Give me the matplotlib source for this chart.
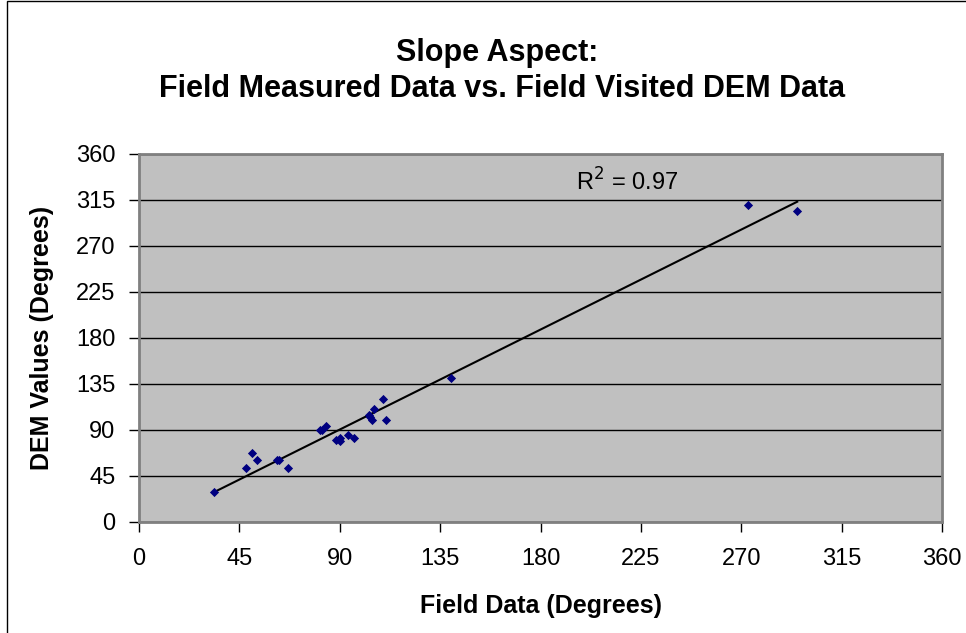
import matplotlib
matplotlib.use("Agg")
import matplotlib.pyplot as plt
import matplotlib.patches as mpatches
import numpy as np

# field measured vs DEM slope aspect (degrees)
field_deg = [33.8, 47.9, 50.8, 52.9, 62.0, 62.9, 67.0, 81.2, 82.1, 84.0, 88.1,
             90.2, 90.2, 93.8, 96.6, 102.9, 105.4, 104.5, 103.5, 109.6, 110.8,
             140.0, 273.1, 295.1]
dem_deg = [29.8, 52.7, 67.7, 60.5, 60.5, 60.5, 52.7, 90.1, 90.1, 94.3, 80.4,
           82.0, 79.7, 85.3, 82.3, 104.8, 110.4, 99.9, 103.0, 120.2, 100.2,
           140.7, 310.1, 304.3]
ticks = [0, 45, 90, 135, 180, 225, 270, 315, 360]
r2_label = "R$^2$ = 0.97"

plt.rcParams["font.family"] = ["Liberation Sans", "DejaVu Sans"]

fig = plt.figure(figsize=(9.66, 6.33), dpi=100, facecolor="white")
ax = fig.add_axes([139/966, (633-522)/633, (942-139)/966, (522-154)/633])
ax.set_facecolor("#C0C0C0")

x = np.array(field_deg)
y = np.array(dem_deg)

# linear trendline
k, b = np.polyfit(x, y, 1)
xs = np.array([x.min(), x.max()])
ax.plot(xs, k*xs + b, color="black", linewidth=1.5, zorder=3)

ax.scatter(x, y, marker="D", s=22, color="#000080", zorder=4, linewidths=0)

ax.set_xlim(0, 360)
ax.set_ylim(0, 360)
ax.set_xticks(ticks)
ax.set_yticks(ticks)
ax.yaxis.grid(True, color="black", linewidth=1)
ax.set_axisbelow(True)

for s in ["top", "right", "left", "bottom"]:
        ax.spines[s].set_edgecolor("#808080")
        ax.spines[s].set_linewidth(2)

ax.tick_params(axis="both",
        which="major",
        labelsize=17,
        labelcolor="black",
        colors="black",
        direction="out",
        width=1,
        length=7)
ax.tick_params(axis="x", pad=12)
ax.tick_params(axis="y", pad=10)

# axis titles
fig.text(541/966, 1 - 613/633, "Field Data (Degrees)", fontsize=18,
        fontweight="bold", ha="center", va="baseline")
fig.text(42/966, 1 - 338/633, "DEM Values (Degrees)", fontsize=18,
        fontweight="bold", ha="center", va="center", rotation=90)

ax.text(196, 324, r2_label, fontsize=17, ha="left", va="baseline")

fig.text(497/966, 1 - 61/633, "Slope Aspect:", fontsize=22, fontweight="bold",
        ha="center", va="baseline")
fig.text(502/966, 1 - 97/633, "Field Measured Data vs. Field Visited DEM Data",
        fontsize=22, fontweight="bold", ha="center", va="baseline")

# outer chart border (right and bottom edges fall outside the image)
fig.patches.append(mpatches.Rectangle((7/966, -0.05), 1.0, 1 - 1/633 + 0.05,
        transform=fig.transFigure, fill=False, edgecolor="black", linewidth=1))

fig.savefig("out.png", dpi=100, facecolor="white")
